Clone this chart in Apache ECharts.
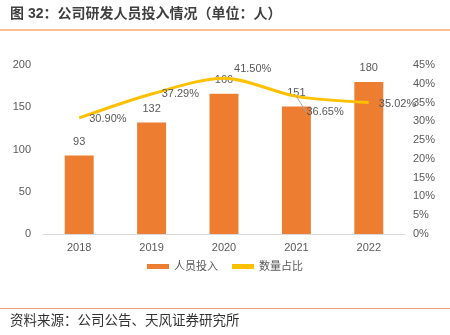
<!DOCTYPE html>
<html>
<head>
<meta charset="utf-8">
<script src="https://cdn.jsdelivr.net/npm/echarts@6/dist/echarts.min.js"></script>
<style>
  html, body { margin: 0; padding: 0; background: #fff; }
  #chart { width: 450px; height: 335px; }
</style>
</head>
<body>
<div id="chart"></div>
<script>
// R&D staff headcount and its share of total staff, 2018-2022
const years = ['2018', '2019', '2020', '2021', '2022'];
const staff = [93, 132, 166, 151, 180];
const sharePct = [30.90, 37.29, 41.50, 36.65, 35.02];
const leftTicks = [0, 50, 100, 150, 200];

const titleText = '图 32：公司研发人员投入情况（单位：人）';
const sourceText = '资料来源：公司公告、天风证券研究所';

// per-point vertical nudges for the percentage labels
const labelDy = [1, 0, -9, 16, 1];

const font = '"Liberation Sans", Arial, "Noto Sans CJK SC", sans-serif';
const gray = '#595959';

const chart = echarts.init(document.getElementById('chart'));
chart.setOption({
  animation: false,
  textStyle: { fontFamily: font },
  grid: { left: 43, right: 45, top: 65, bottom: 101 },
  legend: {
    bottom: 58,
    left: 'center',
    itemGap: 14,
    textStyle: { color: gray, fontSize: 11, fontFamily: font },
    data: [
      { name: '人员投入', icon: 'rect', itemStyle: { color: '#ED7D31' } },
      { name: '数量占比', icon: 'rect', itemStyle: { color: '#FFC000' } }
    ],
    itemWidth: 22,
    itemHeight: 5
  },
  xAxis: {
    type: 'category',
    data: years,
    axisLine: { lineStyle: { color: '#d9d9d9' } },
    axisTick: { show: false },
    axisLabel: { color: gray, fontSize: 11, margin: 8 }
  },
  yAxis: [
    {
      type: 'value',
      min: leftTicks[0],
      max: leftTicks[leftTicks.length - 1],
      interval: 50,
      splitLine: { show: false },
      axisLine: { show: false },
      axisLabel: { color: gray, fontSize: 11, margin: 12 }
    },
    {
      type: 'value',
      min: 0,
      max: 45,
      interval: 5,
      splitLine: { show: false },
      axisLine: { show: false },
      axisLabel: { color: gray, fontSize: 11, margin: 8, formatter: '{value}%' }
    }
  ],
  series: [
    {
      name: '人员投入',
      type: 'bar',
      data: staff,
      barWidth: '40%',
      itemStyle: { color: '#ED7D31' },
      label: { show: true, position: 'top', color: gray, fontSize: 11, distance: 8 },
      z: 2
    },
    {
      name: '数量占比',
      type: 'line',
      yAxisIndex: 1,
      data: sharePct.map((v, i) => ({
        value: v,
        labelLine: { show: i === 3, lineStyle: { color: '#a6a6a6', width: 1 } }
      })),
      smooth: 0.3,
      symbol: 'circle',
      symbolSize: 0.1,
      showAllSymbol: true,
      lineStyle: { color: '#FFC000', width: 3 },
      itemStyle: { color: '#FFC000' },
      label: {
        show: true,
        position: 'right',
        distance: 10,
        color: gray,
        fontSize: 11,
        formatter: p => p.value.toFixed(2) + '%'
      },
      labelLayout: p => ({ dy: labelDy[p.dataIndex] }),
      z: 3
    }
  ],
  graphic: [
    {
      type: 'text', left: 10, top: 7,
      style: { text: titleText, fontSize: 14, fontWeight: 'bold', fill: '#404040', fontFamily: font }
    },
    {
      type: 'rect', left: 0, top: 29,
      shape: { width: 450, height: 2 },
      style: { fill: '#FAC090' }
    },
    {
      type: 'rect', left: 0, top: 308,
      shape: { width: 450, height: 1 },
      style: { fill: '#F0A070' }
    },
    {
      type: 'text', left: 10, top: 315,
      style: { text: sourceText, fontSize: 13.5, fill: '#333', fontFamily: font }
    }
  ]
});
</script>
</body>
</html>
